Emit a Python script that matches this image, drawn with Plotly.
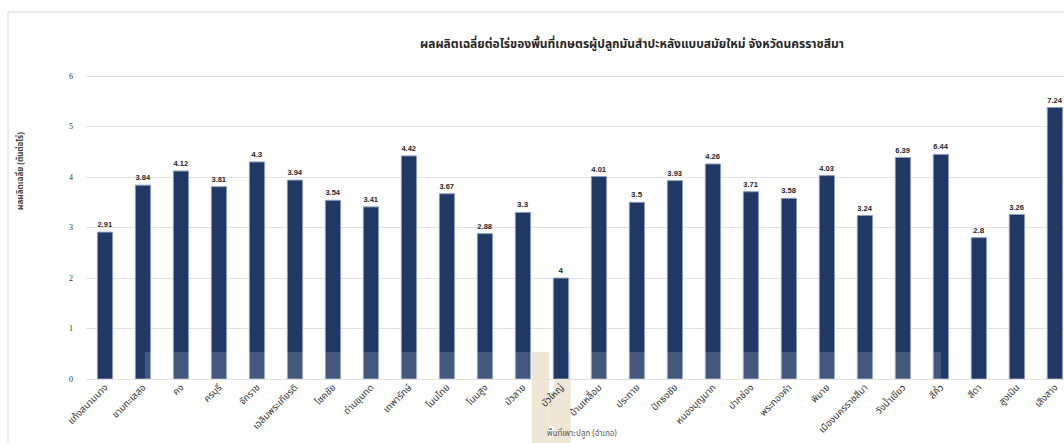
import plotly.graph_objects as go

districts = ["แก้งสนามนาง", "ขามทะเลสอ", "คง", "ครบุรี", "จักราช", "เฉลิมพระเกียรติ",
             "โชคชัย", "ด่านขุนทด", "เทพารักษ์", "โนนไทย", "โนนสูง", "บัวลาย", "บัวใหญ่",
             "บ้านเหลื่อม", "ประทาย", "ปักธงชัย", "หนองบุญมาก", "ปากช่อง", "พระทองคำ",
             "พิมาย", "เมืองนครราชสีมา", "วังน้ำเขียว", "สีคิ้ว", "สีดา", "สูงเนิน", "เสิงสาง"]
bar_heights = [2.91, 3.84, 4.12, 3.81, 4.3, 3.94, 3.54, 3.41, 4.42, 3.67, 2.88, 3.3, 2.0,
               4.01, 3.5, 3.93, 4.26, 3.71, 3.58, 4.03, 3.24, 4.39, 4.45, 2.8, 3.26, 5.38]
value_labels = ["2.91", "3.84", "4.12", "3.81", "4.3", "3.94", "3.54", "3.41", "4.42", "3.67",
                "2.88", "3.3", "4", "4.01", "3.5", "3.93", "4.26", "3.71", "3.58", "4.03",
                "3.24", "6.39", "6.44", "2.8", "3.26", "7.24"]
y_ticks = [0, 1, 2, 3, 4, 5, 6]

title_text = "ผลผลิตเฉลี่ยต่อไร่ของพื้นที่เกษตรผู้ปลูกมันสำปะหลังแบบสมัยใหม่ จังหวัดนครราชสีมา"
y_title = "ผลผลิตเฉลี่ย (ตันต่อไร่)"
x_title = "พื้นที่เพาะปลูก (อำเภอ)"

W, H = 1064, 443
L, R, T, B = 86, 0, 61, 64
PW, PH = W - L - R, H - T - B

def px(xp):
    return (xp - L) / PW

def py(yp):
    return (H - B - yp) / PH

xs = list(range(len(districts)))
FONT = "Tahoma, 'Noto Sans Thai', 'Noto Sans', sans-serif"

fig = go.Figure()
fig.add_trace(go.Bar(
    x=xs, y=bar_heights, width=0.4,
    marker=dict(color="#203864", line=dict(color="#8a9cc0", width=1)),
    text=["<b>" + t + "</b>" for t in value_labels], textposition="outside",
    textfont=dict(size=8, color="#262626", family="Liberation Sans"),
    cliponaxis=False, hoverinfo="skip",
))

shapes = []
beige = "#efe6d6"
# beige highlight (screenshot artefact)
for (a, b, c, d) in [(531.7, 549.3, 352, 443), (554, 570.7, 352, 443),
                     (549.3, 554, 391.7, 426), (549.3, 554, 436.7, 443)]:
    shapes.append(dict(type="rect", xref="paper", yref="paper", x0=px(a), x1=px(b),
                       y0=py(d), y1=py(c), fillcolor=beige, line=dict(width=0), layer="below"))
# light band over bar bottoms
for (a, b) in [(1.05, 11.23), (12.26, 22.0)]:
    shapes.append(dict(type="rect", xref="x", yref="y", x0=a, x1=b, y0=0, y1=0.535,
                       fillcolor="rgba(255,255,255,0.16)", line=dict(width=0), layer="above"))
# container border (top and left)
shapes.append(dict(type="line", xref="paper", yref="paper", x0=px(8), x1=px(W + 5),
                   y0=py(12), y1=py(12), line=dict(color="#d9d9d9", width=1)))
shapes.append(dict(type="line", xref="paper", yref="paper", x0=px(8), x1=px(8),
                   y0=py(12), y1=py(H + 5), line=dict(color="#d9d9d9", width=1)))

fig.update_layout(
    width=W, height=H,
    margin=dict(l=L, r=R, t=T, b=B, autoexpand=False),
    paper_bgcolor="white", plot_bgcolor="rgba(0,0,0,0)",
    showlegend=False,
    shapes=shapes,
    title=dict(text="<b>" + title_text + "</b>", x=632 / W, xanchor="center",
               y=1 - 44 / H, yanchor="middle", xref="container", yref="container",
               font=dict(size=12, color="#262626", family=FONT)),
    xaxis=dict(range=[-0.5, 25.24], tickmode="array", tickvals=xs, ticktext=districts,
               tickangle=-45, showgrid=False, zeroline=False, showline=False, ticks="",
               tickfont=dict(size=9.5, color="#333333", family=FONT), automargin=False),
    yaxis=dict(range=[0, 6.3], tickmode="array", tickvals=y_ticks,
               showgrid=True, gridcolor="#e3e3e3", gridwidth=1, zeroline=True,
               zerolinecolor="#e3e3e3", zerolinewidth=1, showline=False, ticks="",
               ticklabelstandoff=12,
               tickfont=dict(size=8, color="#333333", family="Liberation Serif"),
               automargin=False),
    annotations=[
        dict(text="<b>" + y_title + "</b>", textangle=-90, xref="paper", yref="paper",
             x=px(20), y=py(171), xanchor="center", yanchor="middle", showarrow=False,
             font=dict(size=8, color="#404040", family=FONT)),
        dict(text=x_title, xref="paper", yref="paper", x=px(582), y=py(442),
             xanchor="center", yanchor="bottom", showarrow=False,
             font=dict(size=8, color="#595959", family=FONT)),
    ],
)

fig.write_html("out.html")
